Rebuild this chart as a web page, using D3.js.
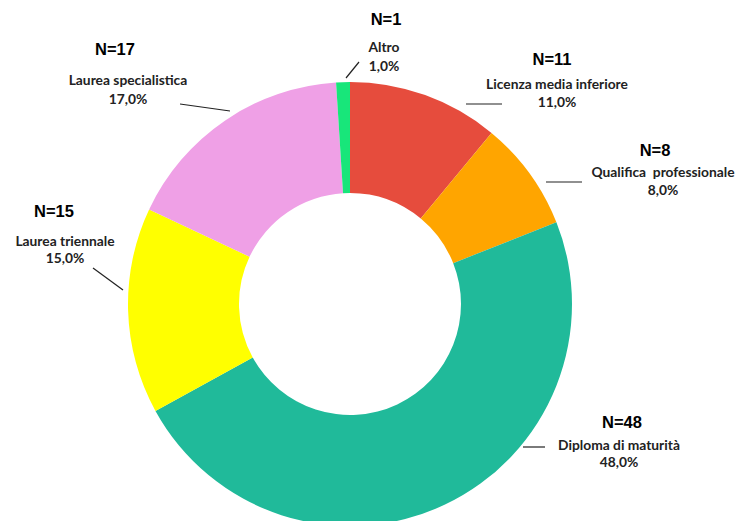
<!DOCTYPE html>
<html><head><meta charset="utf-8">
<script src="https://cdn.jsdelivr.net/npm/d3@7"></script>
<style>body{margin:0;background:#fff;} svg{display:block;}</style>
</head><body>
<svg id="c" width="755" height="521"></svg>
<script>
const categories = ["Licenza media inferiore","Qualifica  professionale","Diploma di maturità","Laurea triennale","Laurea specialistica","Altro"];
const counts = [11, 8, 48, 15, 17, 1];
const percentLabels = ["11,0%","8,0%","48,0%","15,0%","17,0%","1,0%"];
const colors = ["#E64C3D","#FFA500","#20BA9A","#FFFF00","#EFA0E6","#18E67A"];

// label layout (annotation placement)
const labelLayout = [
  {x:557, nY:65,  lY:89,  pY:107, line:[466,104,502,104]},
  {x:663, nY:156, lY:177, pY:195, line:[546,182,582,182]},
  {x:619, nY:428, lY:450, pY:467, line:[523,447,545,447]},
  {x:65,  nY:217, lY:246, pY:263, line:[93,268,123,290]},
  {x:128, nY:55,  lY:85,  pY:104, line:[180,104,230,111]},
  {x:384, nY:25,  lY:52,  pY:71,  line:[346,78,359,62]}
];
const nOffset = [ -5, -8, 3, -11, -13, 2];

const svg = d3.select("#c");
const cx = 350, cy = 304, R = 222, r = 111;
const g = svg.append("g").attr("transform", `translate(${cx},${cy})`);
const pie = d3.pie().sort(null).value(d => d)(counts);
const arc = d3.arc().innerRadius(r).outerRadius(R);
g.selectAll("path").data(pie).join("path")
  .attr("d", arc).attr("fill", (d,i) => colors[i]);

const lab = svg.append("g");
categories.forEach((c,i) => {
  const L = labelLayout[i];
  lab.append("line").attr("x1",L.line[0]).attr("y1",L.line[1]).attr("x2",L.line[2]).attr("y2",L.line[3])
    .attr("stroke","#222").attr("stroke-width",1.2);
  lab.append("text").attr("x",L.x + nOffset[i]).attr("y",L.nY).attr("text-anchor","middle")
    .attr("font-family","Liberation Sans, Arial, sans-serif").attr("font-weight","bold").attr("font-size",16.5)
    .attr("fill","#000").text("N=" + counts[i]);
  lab.append("text").attr("x",L.x).attr("y",L.lY).attr("text-anchor","middle")
    .attr("font-family","Lato, Carlito, sans-serif").attr("font-weight","bold").attr("font-size",13.8)
    .attr("fill","#222").style("white-space","pre").text(c);
  lab.append("text").attr("x",L.x).attr("y",L.pY).attr("text-anchor","middle")
    .attr("font-family","Lato, Carlito, sans-serif").attr("font-weight","bold").attr("font-size",13.8)
    .attr("fill","#222").text(percentLabels[i]);
});
</script>
</body></html>
